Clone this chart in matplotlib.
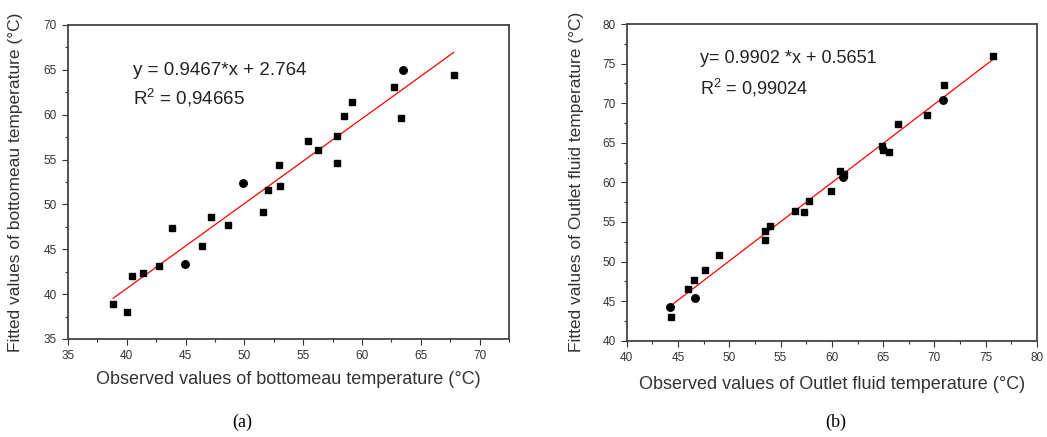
import matplotlib
matplotlib.use("Agg")
import matplotlib.pyplot as plt
import numpy as np
from matplotlib.ticker import MultipleLocator

plt.rcParams['font.family'] = ['Liberation Sans', 'DejaVu Sans']
plt.rcParams['mathtext.default'] = 'regular'

# Panel (a): bottom eau temperature
obs_a = [38.85, 40.04, 40.47, 41.38, 42.76, 43.84, 44.97, 46.42, 47.16, 48.57,
         49.85, 51.55, 52.03, 52.94, 53.00, 55.37, 56.22, 57.84, 57.84, 58.43,
         59.17, 62.71, 63.34, 63.51, 67.79]
fit_a = [38.86, 38.04, 41.98, 42.35, 43.10, 47.33, 43.36, 45.36, 48.56, 47.70,
         52.39, 49.15, 51.64, 54.36, 52.05, 57.07, 56.03, 57.59, 54.58, 59.89,
         61.45, 63.13, 59.67, 65.02, 64.46]
round_a = [6, 10, 23]  # indices drawn as round markers
slope_a, icpt_a = 0.9467, 2.764
eq_a = "y = 0.9467*x + 2.764"
r2_a = "R$^2$ = 0,94665"

# Panel (b): outlet fluid temperature
obs_b = [44.19, 44.29, 46.00, 46.53, 46.62, 47.63, 49.03, 53.44, 53.51, 53.93,
         56.43, 57.24, 57.73, 59.90, 60.75, 61.07, 61.17, 64.90, 64.99, 65.52,
         66.46, 69.25, 70.84, 70.94, 75.75]
fit_b = [44.21, 42.95, 46.57, 47.62, 45.39, 48.88, 50.86, 52.72, 53.85, 54.44,
         56.42, 56.21, 57.68, 58.95, 61.47, 60.63, 61.00, 64.59, 64.08, 63.83,
         67.33, 68.46, 70.40, 72.25, 75.96]
round_b = [0, 4, 15, 22]
slope_b, icpt_b = 0.9902, 0.5651
eq_b = "y= 0.9902 *x + 0.5651"
r2_b = "R$^2$ = 0,99024"

fig = plt.figure(figsize=(10.47, 4.37), dpi=100)
axA = fig.add_axes([0.0649, 0.2243, 0.4213, 0.7185])
axB = fig.add_axes([0.5986, 0.2204, 0.3919, 0.7246])

def draw(ax, obs, fit, rnd, slope, icpt, xlim, ylim, eq, r2, eqy, r2y, tx, fs,
         xlabel, ylabel, xl_y, yl_x):
    obs = np.array(obs); fit = np.array(fit)
    sq = [i for i in range(len(obs)) if i not in rnd]
    ax.plot(obs[sq], fit[sq], 's', color='black', ms=4.8, zorder=3)
    ax.plot(obs[rnd], fit[rnd], 'o', color='black', ms=5.4, zorder=3)
    xs = np.array([obs.min(), obs.max()])
    ax.plot(xs, slope * xs + icpt, color='red', lw=0.9, zorder=2)
    ax.set_xlim(*xlim); ax.set_ylim(*ylim)
    ax.xaxis.set_major_locator(MultipleLocator(5))
    ax.yaxis.set_major_locator(MultipleLocator(5))
    ax.xaxis.set_minor_locator(MultipleLocator(2.5))
    ax.yaxis.set_minor_locator(MultipleLocator(2.5))
    ax.tick_params(which='major', direction='out', length=4, width=0.8,
                   labelsize=8.5, colors='#333333', pad=4)
    ax.tick_params(which='minor', direction='out', length=2.5, width=0.8, colors='#333333')
    for s in ax.spines.values():
        s.set_color('#444444'); s.set_linewidth(1.3)
    ax.text(tx, eqy, eq, transform=ax.transAxes, fontsize=fs, color='#222222',
            va='center', ha='left')
    ax.text(tx, r2y, r2, transform=ax.transAxes, fontsize=fs,
            color='#222222', va='center', ha='left')
    ax.set_xlabel(xlabel, fontsize=13, color='#333333')
    ax.set_ylabel(ylabel, fontsize=12.5, color='#333333')
    ax.xaxis.set_label_coords(0.5, xl_y)
    ax.yaxis.set_label_coords(yl_x, 0.5)

draw(axA, obs_a, fit_a, round_a, slope_a, icpt_a, (35, 72.5), (35, 70), eq_a, r2_a,
     1 - (71 - 25) / 314, 1 - (98 - 25) / 314, (133 - 68) / 441, 13.5,
     "Observed values of bottomeau temperature (°C)",
     "Fitted values of bottomeau temperature (°C)", -0.102, -0.102)
draw(axB, obs_b, fit_b, round_b, slope_b, icpt_b, (40, 80), (40, 80), eq_b, r2_b,
     1 - (58 - 24) / 316.7, 1 - (88 - 24) / 316.7, (700 - 626.7) / 410.3, 13,
     "Observed values of Outlet fluid temperature (°C)",
     "Fitted values of Outlet fluid temperature (°C)", -0.11, -0.104)

fig.text(242 / 1047, 1 - 422 / 437, "(a)", fontsize=13, family='Liberation Serif',
         ha='center', va='center')
fig.text(836 / 1047, 1 - 422 / 437, "(b)", fontsize=13, family='Liberation Serif',
         ha='center', va='center')

fig.savefig("out.png", dpi=100)
